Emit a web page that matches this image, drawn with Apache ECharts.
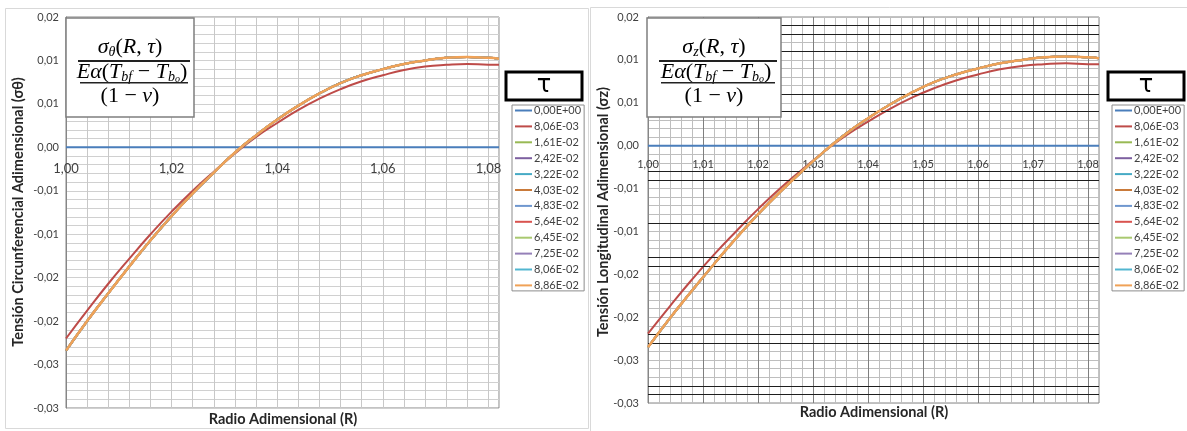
<!DOCTYPE html>
<html><head><meta charset="utf-8">
<script src="https://cdn.jsdelivr.net/npm/echarts@6/dist/echarts.min.js"></script>
<style>html,body{margin:0;padding:0;background:#fff;}#c{width:1187px;height:431px;}</style>
</head><body><div id="c"></div>
<script>
// ---- data ----
const tauNames = ['0,00E+00','8,06E-03','1,61E-02','2,42E-02','3,22E-02','4,03E-02','4,83E-02','5,64E-02','6,45E-02','7,25E-02','8,06E-02','8,86E-02'];
const seriesColors = ['#4A7EBB','#BE4B48','#98B954','#7D60A0','#46AAC5','#C97A3A','#6F97CF','#D9534F','#A9C970','#9580B8','#52B6D0','#F0A257'];
const radius = [1.000,1.004,1.008,1.012,1.016,1.020,1.024,1.028,1.032,1.036,1.040,1.044,1.048,1.052,1.056,1.060,1.064,1.068,1.072,1.076,1.080,1.082];
const tauZero = [0,0,0,0,0,0,0,0,0,0,0,0,0,0,0,0,0,0,0,0,0,0];
// circumferential stress (left chart)
const circTauEarly = [-0.0220,-0.0188,-0.0157,-0.0128,-0.0100,-0.0074,-0.0050,-0.0028,-0.0007,0.0012,0.0028,0.0043,0.0056,0.0067,0.0076,0.0083,0.0089,0.0093,0.0095,0.0096,0.0095,0.0095];
const circTauLate  = [-0.0234,-0.0200,-0.0168,-0.0137,-0.0107,-0.0079,-0.0053,-0.0029,-0.0006,0.0014,0.0032,0.0048,0.0062,0.0074,0.0083,0.0090,0.0096,0.0100,0.0103,0.0104,0.0103,0.0102];
// longitudinal stress (right chart)
const longTauEarly = [-0.0219,-0.0187,-0.0156,-0.0127,-0.0100,-0.0074,-0.0050,-0.0028,-0.0007,0.0012,0.0028,0.0043,0.0056,0.0067,0.0076,0.0083,0.0089,0.0093,0.0095,0.0096,0.0095,0.0095];
const longTauLate  = [-0.0235,-0.0201,-0.0169,-0.0138,-0.0108,-0.0080,-0.0054,-0.0030,-0.0007,0.0014,0.0032,0.0048,0.0062,0.0074,0.0083,0.0090,0.0096,0.0100,0.0103,0.0104,0.0103,0.0102];
const yTickLabels = ['-0,03','-0,03','-0,02','-0,02','-0,01','-0,01','0,00','0,01','0,01','0,02'];
const xTickLabelsLeft = ['1,00','1,02','1,04','1,06','1,08'];
const xTickLabelsRight = ['1,00','1,01','1,02','1,03','1,04','1,05','1,06','1,07','1,08'];
const darkGridLevels = [0.014,0.013,0.011,0.006,0.004,-0.003,-0.004,-0.009,-0.013,-0.014,-0.022,-0.023,-0.028,-0.029];

// ---- helpers ----
const FONT = 'Lato, "Liberation Sans", sans-serif';
const Y_MIN = -0.03, Y_MAX = 0.015;
function pairs(arr){ return radius.map((r,i)=>[r, arr[i]]); }
function yFmt(v){ const k = Math.round((v - Y_MIN)/0.005); return Math.abs(v - (Y_MIN + k*0.005)) < 1e-7 ? (yTickLabels[k]||'') : ''; }
function xFmtL(v){ const k = Math.round((v - 1)/0.02); return Math.abs(v - (1 + k*0.02)) < 1e-7 ? (xTickLabelsLeft[k]||'') : ''; }
function xFmtR(v){ const k = Math.round((v - 1)/0.01); return Math.abs(v - (1 + k*0.01)) < 1e-7 ? (xTickLabelsRight[k]||'') : ''; }

function panelSeries(gi, early, late){
  return tauNames.map((name, i) => {
    const arr = i === 0 ? tauZero : (i === 1 ? early : late);
    return {
      name, type: 'line', xAxisIndex: gi, yAxisIndex: gi,
      data: pairs(arr), smooth: true, symbol: 'none', silent: true,
      lineStyle: { color: seriesColors[i], width: i === tauNames.length-1 ? 2.5 : 2 },
      itemStyle: { color: seriesColors[i] },
      z: 3 + i
    };
  });
}

const richMath = {
  i: { fontFamily: '"Liberation Serif", serif', fontStyle: 'italic', fontSize: 22, lineHeight: 24, color: '#111' },
  n: { fontFamily: '"Liberation Serif", serif', fontSize: 22, lineHeight: 24, color: '#111' },
  s: { fontFamily: '"Liberation Serif", serif', fontStyle: 'italic', fontSize: 14, lineHeight: 12, verticalAlign: 'bottom', color: '#111' },
  ss: { fontFamily: '"Liberation Serif", serif', fontStyle: 'italic', fontSize: 10, lineHeight: 6, verticalAlign: 'bottom', color: '#111' }
};

function formulaBox(x0, w, sub){
  const cx = x0 + w/2;
  return [
    { type: 'rect', shape: { x: x0, y: 18, width: w, height: 99 }, style: { fill: '#fff', stroke: '#7F7F7F', lineWidth: 1.5 }, z: 100 },
    { type: 'text', x: cx, y: 47, style: { text: '{i|σ}{s|' + sub + '}{n|(}{i|R}{n|, }{i|τ}{n|)}', rich: richMath, align: 'center', verticalAlign: 'middle' }, z: 101 },
    { type: 'rect', shape: { x: x0 + 12, y: 60, width: w - 16, height: 2 }, style: { fill: '#222' }, z: 101 },
    { type: 'text', x: cx + 2, y: 72, style: { text: '{i|Eα}{n|(}{i|T}{s|bf}{n| − }{i|T}{s|b}{ss|o}{n|)}', rich: richMath, align: 'center', verticalAlign: 'middle' }, z: 101 },
    { type: 'rect', shape: { x: x0 + 14, y: 82, width: w - 20, height: 1.5 }, style: { fill: '#222' }, z: 101 },
    { type: 'text', x: cx, y: 96, style: { text: '{n|(1 − }{i|ν}{n|)}', rich: richMath, align: 'center', verticalAlign: 'middle' }, z: 101 }
  ];
}

function tauBox(x0){
  return [
    { type: 'rect', shape: { x: x0, y: 72, width: 76, height: 28 }, style: { fill: '#fff', stroke: '#000', lineWidth: 3 }, z: 100 },
    { type: 'text', x: x0 + 38, y: 86, style: { text: 'τ', font: '24px "DejaVu Sans", sans-serif', fill: '#000', align: 'center', verticalAlign: 'middle' }, z: 101 }
  ];
}

function legendFor(left){
  return {
    orient: 'vertical', left: left, top: 105, data: tauNames, selectedMode: false,
    icon: 'path://M0,0 L17,0 L17,2 L0,2 Z', symbolKeepAspect: true,
    itemWidth: 17, itemHeight: 14, itemGap: 4.9, padding: [0, 3, 0, 3],
    borderColor: '#8C8C8C', borderWidth: 1, backgroundColor: '#fff',
    textStyle: { fontFamily: FONT, fontSize: 11, color: '#404040', padding: [0,0,0,-3] }
  };
}

const chart = echarts.init(document.getElementById('c'), null, { renderer: 'canvas' });
const gridL = { left: 66, top: 17, width: 433, height: 391 };
const gridR = { left: 648, top: 17, width: 451, height: 386 };
const zeroOffsetL = -gridL.height * (0 - Y_MIN) / (Y_MAX - Y_MIN);
const zeroOffsetR = -gridR.height * (0 - Y_MIN) / (Y_MAX - Y_MIN);
const option = {
  animation: false,
  backgroundColor: '#fff',
  grid: [
    Object.assign({ show: true, borderColor: '#868686', borderWidth: 1, backgroundColor: 'transparent' }, gridL),
    Object.assign({ show: true, borderColor: '#868686', borderWidth: 1, backgroundColor: 'transparent' }, gridR)
  ],
  xAxis: [
    { type: 'value', gridIndex: 0, min: 1, max: 1.082, interval: 0.004, position: 'bottom', offset: zeroOffsetL,
      axisLine: { show: false, onZero: false }, axisTick: { show: false },
      axisLabel: { formatter: xFmtL, fontFamily: FONT, fontSize: 13, color: '#404040', margin: 15 },
      splitLine: { show: true, lineStyle: { color: '#C8C8C8', width: 1 } } },
    { type: 'value', gridIndex: 1, min: 1, max: 1.082, interval: 0.002, position: 'bottom', offset: zeroOffsetR,
      axisLine: { show: false, onZero: false }, axisTick: { show: false },
      axisLabel: { formatter: xFmtR, fontFamily: FONT, fontSize: 11, color: '#404040', margin: 13 },
      splitLine: { show: true, lineStyle: { color: ['#7F7F7F','#BEBEBE','#BEBEBE','#BEBEBE','#BEBEBE'], width: 1 } } }
  ],
  yAxis: [
    { type: 'value', gridIndex: 0, min: Y_MIN, max: Y_MAX, interval: 0.001,
      axisLine: { show: true, lineStyle: { color: '#868686' } }, axisTick: { show: false },
      axisLabel: { formatter: yFmt, fontFamily: FONT, fontSize: 11, color: '#404040', margin: 7 },
      splitLine: { show: true, lineStyle: { color: '#D0D0D0', width: 1 } } },
    { type: 'value', gridIndex: 1, min: Y_MIN, max: Y_MAX, interval: 0.001,
      axisLine: { show: true, lineStyle: { color: '#868686' } }, axisTick: { show: false },
      axisLabel: { formatter: yFmt, fontFamily: FONT, fontSize: 11, color: '#404040', margin: 9 },
      splitLine: { show: true, lineStyle: { color: '#BEBEBE', width: 1 } } }
  ],
  legend: [ legendFor(512), legendFor(1112) ],
  series: [
    { name: 'darkGrid', type: 'line', xAxisIndex: 1, yAxisIndex: 1, data: [], z: 2, silent: true,
      markLine: { silent: true, symbol: 'none', precision: 6, label: { show: false }, animation: false,
        lineStyle: { color: '#1E1E1E', width: 1, type: 'solid' },
        data: darkGridLevels.map(v => ({ yAxis: v })) } },
    ...panelSeries(0, circTauEarly, circTauLate),
    ...panelSeries(1, longTauEarly, longTauLate)
  ],
  graphic: [
    { type: 'rect', shape: { x: 5.5, y: 8.5, width: 583, height: 420 }, style: { fill: 'none', stroke: '#D9D9D9', lineWidth: 1 }, z: -10, silent: true },
    { type: 'rect', shape: { x: 590.5, y: 7.5, width: 600, height: 430 }, style: { fill: 'none', stroke: '#D9D9D9', lineWidth: 1 }, z: -10, silent: true },
    ...formulaBox(66, 128, 'θ'),
    ...formulaBox(647, 134, 'z'),
    ...tauBox(506),
    ...tauBox(1108),
    { type: 'text', x: 18, y: 212, rotation: Math.PI/2, style: { text: 'Tensión Circunferencial Adimensional (σθ)', font: 'bold 14.5px ' + FONT, fill: '#262626', align: 'center', verticalAlign: 'middle' }, z: 100 },
    { type: 'text', x: 603, y: 212, rotation: Math.PI/2, style: { text: 'Tensión Longitudinal Adimensional (σz)', font: 'bold 14.5px ' + FONT, fill: '#262626', align: 'center', verticalAlign: 'middle' }, z: 100 },
    { type: 'text', x: 283, y: 419, style: { text: 'Radio Adimensional (R)', font: 'bold 14.5px ' + FONT, fill: '#262626', align: 'center', verticalAlign: 'middle' }, z: 100 },
    { type: 'text', x: 874, y: 412, style: { text: 'Radio Adimensional (R)', font: 'bold 14.5px ' + FONT, fill: '#262626', align: 'center', verticalAlign: 'middle' }, z: 100 }
  ]
};
chart.setOption(option);
</script>
</body></html>
